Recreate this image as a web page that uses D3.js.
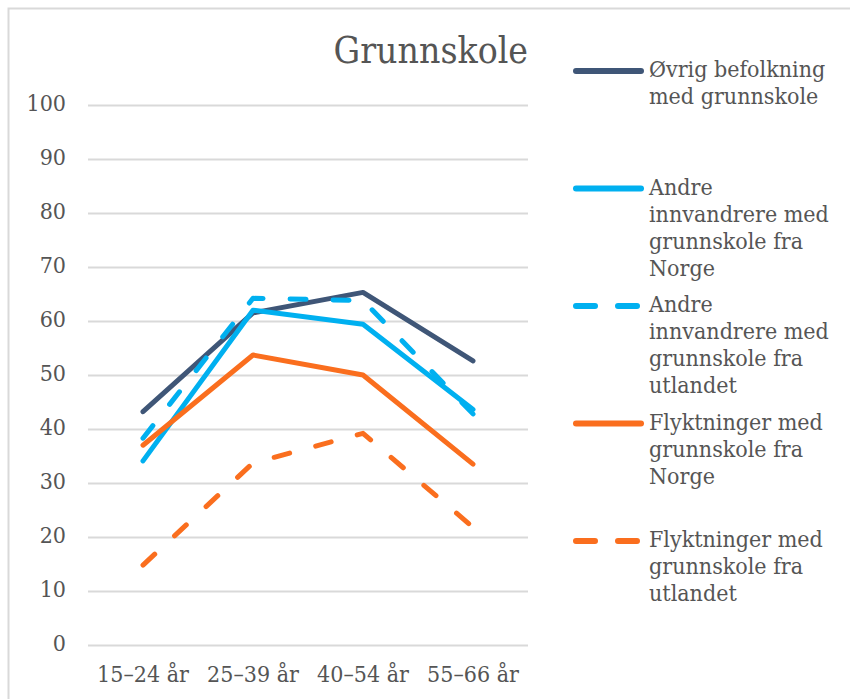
<!DOCTYPE html>
<html>
<head>
<meta charset="utf-8">
<script src="https://cdn.jsdelivr.net/npm/d3@7"></script>
<style>
  body { margin: 0; background: #fff; }
  text { font-family: "DejaVu Serif Condensed", "Liberation Serif", serif; fill: #555555; }
</style>
</head>
<body>
<svg id="chart" width="850" height="699"></svg>
<script>
// categories and series
var ageGroups = ["15–24 år", "25–39 år", "40–54 år", "55–66 år"];
var yTicks = [0, 10, 20, 30, 40, 50, 60, 70, 80, 90, 100];

var ovrigBefolkning = [43.2, 61.5, 65.3, 52.6];
var andreNorge = [34.1, 62.0, 59.4, 43.6];
var andreUtlandet = [38.3, 64.2, 63.8, 42.8];
var flyktningerNorge = [37.0, 53.7, 50.0, 33.5];
var flyktningerUtlandet = [14.8, 33.7, 39.2, 21.8];

var seriesNames = [
  ["Øvrig befolkning", "med grunnskole"],
  ["Andre", "innvandrere med", "grunnskole fra", "Norge"],
  ["Andre", "innvandrere med", "grunnskole fra", "utlandet"],
  ["Flyktninger med", "grunnskole fra", "Norge"],
  ["Flyktninger med", "grunnskole fra", "utlandet"]
];
var seriesValues = [ovrigBefolkning, andreNorge, andreUtlandet, flyktningerNorge, flyktningerUtlandet];
var seriesColors = ["#3f5677", "#00b0f0", "#00b0f0", "#fa6e1e", "#fa6e1e"];
var seriesDashed = [false, false, true, false, true];

var fontFam = '"DejaVu Serif Condensed", "Liberation Serif", serif';
var svg = d3.select("#chart");

// outer frame
svg.append("rect")
  .attr("x", 8.5).attr("y", 8.5)
  .attr("width", 900).attr("height", 900)
  .attr("fill", "none")
  .attr("stroke", "#d9d9d9")
  .attr("stroke-width", 2);

var x = d3.scaleBand().domain(ageGroups).range([88, 528]).padding(0);
var y = d3.scaleLinear().domain([0, 100]).range([645, 105]);

// y axis with gridlines
var yAxis = svg.append("g")
  .attr("transform", "translate(88,0)")
  .call(d3.axisLeft(y).tickValues(yTicks).tickSize(-440).tickPadding(22).tickFormat(d3.format("d")));
yAxis.select(".domain").remove();
yAxis.selectAll(".tick line").attr("stroke", "#d9d9d9").attr("stroke-width", 2);
yAxis.selectAll(".tick text")
  .attr("font-size", "23px")
  .attr("dy", "0.25em")
  .style("font-family", fontFam)
  .attr("fill", "#555555");

// x axis labels
var xAxis = svg.append("g")
  .attr("transform", "translate(0,645)")
  .call(d3.axisBottom(x).tickSize(0).tickPadding(21));
xAxis.select(".domain").remove();
xAxis.selectAll(".tick text")
  .attr("font-size", "23px")
  .style("font-family", fontFam)
  .attr("fill", "#555555");

// title
svg.append("text")
  .attr("x", 528).attr("y", 63)
  .attr("text-anchor", "end")
  .attr("font-size", "37px")
  .text("Grunnskole");

// lines
var line = d3.line()
  .x(function(d, i) { return x(ageGroups[i]) + x.bandwidth() / 2; })
  .y(function(d) { return y(d); });

seriesValues.forEach(function(vals, i) {
  svg.append("path")
    .datum(vals)
    .attr("d", line)
    .attr("fill", "none")
    .attr("stroke", seriesColors[i])
    .attr("stroke-width", 5)
    .attr("stroke-linecap", "round")
    .attr("stroke-linejoin", "round")
    .attr("stroke-dasharray", seriesDashed[i] ? "16,27" : null);
});

// legend
var legendTop = 77, legendStep = 117.5, lineHeight = 27;
seriesNames.forEach(function(lines, i) {
  var g = svg.append("g").attr("transform", "translate(0," + (legendTop + i * legendStep) + ")");
  g.append("line")
    .attr("x1", 576).attr("x2", 641)
    .attr("y1", -6).attr("y2", -6)
    .attr("stroke", seriesColors[i])
    .attr("stroke-width", 6)
    .attr("stroke-linecap", "round")
    .attr("stroke-dasharray", seriesDashed[i] ? "19,23" : null);
  var t = g.append("text").attr("x", 649).attr("y", 0).attr("font-size", "23px");
  lines.forEach(function(s, j) {
    t.append("tspan").attr("x", 649).attr("dy", j === 0 ? 0 : lineHeight).text(s);
  });
});
</script>
</body>
</html>
